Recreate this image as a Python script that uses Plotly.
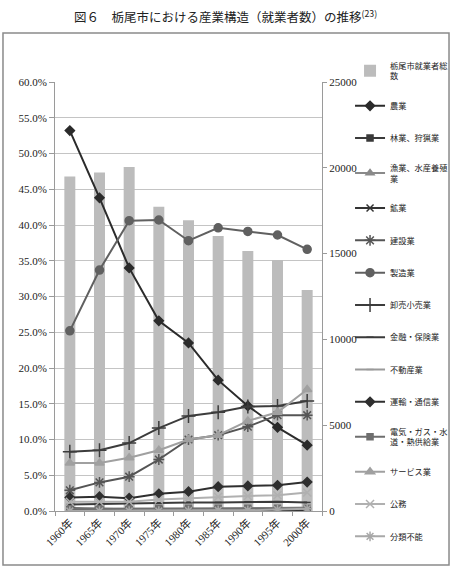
import plotly.graph_objects as go

years = ["1960年", "1965年", "1970年", "1975年", "1980年", "1985年", "1990年", "1995年", "2000年"]

total_workers = [19500, 19720, 20050, 17730, 16940, 16030, 15150, 14630, 12880]

agri = [53.2, 43.8, 34.0, 26.6, 23.5, 18.3, 14.7, 11.7, 9.2]
forestry = [0.4, 0.3, 0.2, 0.2, 0.1, 0.1, 0.1, 0.1, 0.1]
fishery = [0.03, 0.03, 0.02, 0.02, 0.02, 0.02, 0.02, 0.02, 0.02]
mining = [0.3, 0.2, 0.1, 0.1, 0.1, 0.1, 0.05, 0.05, 0.05]
construction = [2.9, 4.0, 4.8, 7.2, 10.0, 10.6, 11.8, 13.4, 13.4]
manufacturing = [25.2, 33.7, 40.6, 40.7, 37.8, 39.6, 39.1, 38.6, 36.6]
wholesale = [8.3, 8.5, 9.5, 11.6, 13.3, 13.8, 14.6, 14.7, 15.4]
finance = [0.9, 1.0, 1.0, 1.1, 1.2, 1.2, 1.3, 1.3, 1.2]
realestate = [0.02, 0.05, 0.1, 0.2, 0.2, 0.3, 0.4, 0.4, 0.5]
transport = [1.9, 2.0, 1.8, 2.4, 2.7, 3.4, 3.5, 3.6, 4.05]
utilities = [0.3, 0.3, 0.3, 0.4, 0.4, 0.4, 0.4, 0.4, 0.4]
services = [6.7, 6.7, 7.45, 8.5, 10.0, 10.6, 12.6, 13.8, 17.0]
public = [1.3, 1.3, 1.3, 1.6, 1.8, 2.0, 2.1, 2.2, 2.6]
unclassified = [0.0, 0.0, 0.0, 0.0, 0.05, 0.1, 0.1, 0.2, 0.3]

series = [
    ("農業", agri, "#2b2b2b", "diamond", 7),
    ("林業、狩猟業", forestry, "#3a3a3a", "square", 6),
    ("漁業、水産養殖<br>業", fishery, "#8a8a8a", "triangle-up", 7),
    ("鉱業", mining, "#333333", "x-thin-open", 7),
    ("建設業", construction, "#555555", "asterisk-open", 9),
    ("製造業", manufacturing, "#606060", "circle", 8),
    ("卸売小売業", wholesale, "#3c3c3c", "cross-thin-open", 10),
    ("金融・保険業", finance, "#3a3a3a", "line-ew-open", 5),
    ("不動産業", realestate, "#9a9a9a", "line-ew-open", 5),
    ("運輸・通信業", transport, "#2f2f2f", "diamond", 7),
    ("電気・ガス・水<br>道・熱供給業", utilities, "#6e6e6e", "square", 6),
    ("サービス業", services, "#a0a0a0", "triangle-up", 8),
    ("公務", public, "#b0b0b0", "x-thin-open", 8),
    ("分類不能", unclassified, "#a8a8a8", "asterisk-open", 8),
]

fig = go.Figure()
fig.add_trace(go.Bar(
    x=years, y=total_workers, name="栃尾市就業者総<br>数",
    marker=dict(color="#bcbcbc", line=dict(width=0)), width=0.37,
    yaxis="y", legendgroup="g0",
))
for i, (name, vals, col, sym, sz) in enumerate(series):
    fig.add_trace(go.Scatter(
        x=years, y=[v / 100 for v in vals], name=name, mode="lines+markers",
        line=dict(color=col, width=2),
        marker=dict(symbol=sym, size=sz, color=col, line=dict(color=col, width=1.5)),
        yaxis="y2", legendgroup=f"g{i+1}",
    ))

serif = "Liberation Serif, Noto Sans CJK JP"
jp = "Noto Sans CJK JP"

fig.update_layout(
    width=453, height=576,
    margin=dict(l=55, r=131, t=82, b=65, autoexpand=False),
    paper_bgcolor="white", plot_bgcolor="white",
    showlegend=True,
    xaxis=dict(
        type="category", showline=True, linecolor="#9a9a9a", linewidth=1,
        ticks="outside", tickson="boundaries", ticklen=4, tickcolor="#9a9a9a",
        tickangle=-45, tickfont=dict(family=serif, size=11, color="#222"),
        showgrid=False, range=[-0.5, 8.5], automargin=False,
    ),
    yaxis=dict(
        side="right", range=[0, 25000], dtick=5000, tickformat="d", showgrid=False,
        showline=True, linecolor="#9a9a9a", linewidth=1,
        ticks="outside", ticklen=4, tickcolor="#9a9a9a",
        tickfont=dict(family=serif, size=11, color="#222"),
        zeroline=False, automargin=False,
    ),
    yaxis2=dict(
        overlaying="y", side="left", range=[0, 0.6], dtick=0.05, tickformat=".1%",
        showgrid=True, gridcolor="#c4c4c4", gridwidth=1,
        showline=True, linecolor="#9a9a9a", linewidth=1,
        ticks="outside", ticklen=5, tickcolor="#9a9a9a",
        tickfont=dict(family=serif, size=11, color="#222"),
        zeroline=False, automargin=False,
    ),
    legend=dict(
        x=1.105, xanchor="left", y=1.066, yanchor="top",
        font=dict(family=jp, size=8.2, color="#222"),
        bgcolor="rgba(0,0,0,0)", borderwidth=0,
        tracegroupgap=13.3, itemwidth=30, traceorder="grouped",
        maxheight=540,
    ),
    font=dict(family=jp),
    shapes=[dict(
        type="rect", xref="paper", yref="paper",
        x0=-0.1948, x1=1.4757, y0=-0.1259, y1=1.1142,
        line=dict(color="#8a8a8a", width=1.5),
    )],
    annotations=[dict(
        text="図６　栃尾市における産業構造（就業者数）の推移<sup>(23)</sup>",
        xref="paper", yref="paper", x=0.64, y=1.1538, xanchor="center", yanchor="middle",
        showarrow=False, font=dict(family=jp, size=12.5, color="#222"),
    )],
)

fig.write_html("out.html")
